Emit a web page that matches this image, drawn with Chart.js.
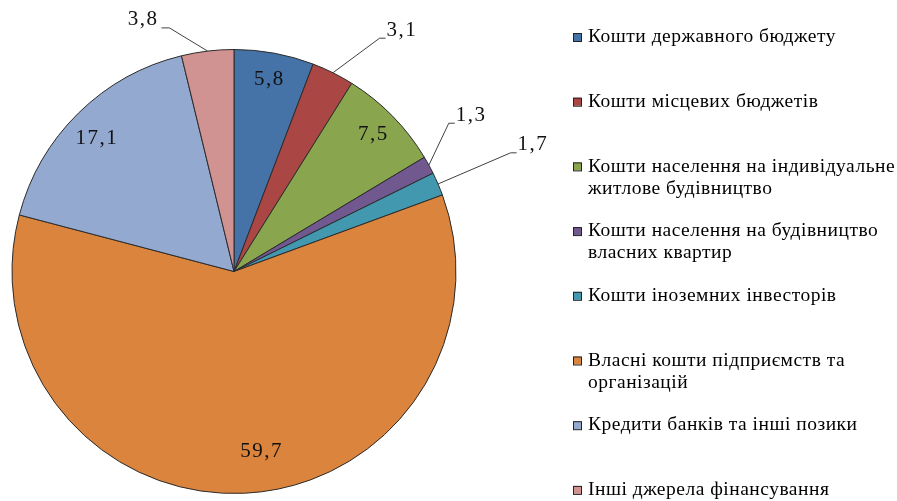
<!DOCTYPE html>
<html>
<head>
<meta charset="utf-8">
<script src="https://cdn.jsdelivr.net/npm/chart.js@4.4.0/dist/chart.umd.min.js"></script>
<style>
html, body { margin: 0; padding: 0; background: #fff; }
</style>
</head>
<body>
<canvas id="chartSources" width="897" height="501"></canvas>
<script>
var categories = [
    'Кошти державного бюджету',
    'Кошти місцевих бюджетів',
    'Кошти населення на індивідуальне житлове будівництво',
    'Кошти населення на будівництво власних квартир',
    'Кошти іноземних інвесторів',
    'Власні кошти підприємств та організацій',
    'Кредити банків та інші позики',
    'Інші джерела фінансування'
];
var shares = [5.8, 3.1, 7.5, 1.3, 1.7, 59.7, 17.1, 3.8];
var colours = ['#4572A7', '#AA4643', '#89A54E', '#71588F', '#4198AF', '#DB843D', '#93A9CF', '#D19392'];

// where each value label goes: inside the slice (r = fraction of radius)
// or outside with a leader line (reach = px beyond the edge), turn in degrees
var labelSpots = [
    { inside: true, r: 0.88, turn: 0 },
    { inside: false, reach: 53, turn: 5.5 },
    { inside: true, r: 0.88, turn: 0 },
    { inside: false, reach: 39, turn: -6 },
    { inside: false, reach: 79, turn: 0 },
    { inside: true, r: 0.82, turn: -6 },
    { inside: true, r: 0.86, turn: -1.5 },
    { inside: false, reach: 30, turn: -8 }
];

var serif = '"Liberation Serif", "Times New Roman", serif';

var valueLabels = {
    id: 'valueLabels',
    afterDatasetsDraw: function(chart) {
        var c = chart.ctx;
        var meta = chart.getDatasetMeta(0);
        c.save();
        c.font = '21px ' + serif;
        c.letterSpacing = '1.5px';
        c.fillStyle = '#111';
        c.textBaseline = 'middle';
        meta.data.forEach(function(arc, i) {
            var p = arc.getProps(['x', 'y', 'startAngle', 'endAngle', 'outerRadius'], true);
            var spot = labelSpots[i];
            var mid = (p.startAngle + p.endAngle) / 2;
            var txt = String(shares[i]).replace('.', ',');
            if (spot.inside) {
                var a = mid + spot.turn * Math.PI / 180;
                var rr = p.outerRadius * spot.r;
                c.textAlign = 'center';
                c.fillText(txt, p.x + rr * Math.cos(a), p.y + rr * Math.sin(a));
            } else {
                var sx = p.x + p.outerRadius * Math.cos(mid);
                var sy = p.y + p.outerRadius * Math.sin(mid);
                var a2 = mid + spot.turn * Math.PI / 180;
                var er = p.outerRadius + spot.reach;
                var ex = p.x + er * Math.cos(a2);
                var ey = p.y + er * Math.sin(a2);
                var right = ex >= p.x;
                var hx = right ? ex + 6 : ex - 8;
                c.strokeStyle = '#404040';
                c.lineWidth = 1;
                c.beginPath();
                c.moveTo(sx, sy);
                c.lineTo(ex, ey);
                c.lineTo(hx, ey);
                c.stroke();
                c.textAlign = right ? 'left' : 'right';
                c.fillText(txt, right ? hx + 1 : hx - 3, ey - 8);
            }
        });
        c.restore();
    }
};

var sideLegend = {
    id: 'sideLegend',
    afterDraw: function(chart) {
        var c = chart.ctx;
        var x0 = 573, tx = 588, maxW = 897 - tx;
        c.save();
        c.font = '19.5px ' + serif;
        c.letterSpacing = '0.5px';
        c.textBaseline = 'middle';
        c.textAlign = 'left';
        categories.forEach(function(name, i) {
            var y = 37 + i * 64.7;
            c.fillStyle = colours[i];
            c.fillRect(x0, y - 4, 8, 8);
            c.strokeStyle = '#222';
            c.lineWidth = 1;
            c.strokeRect(x0 + 0.5, y - 3.5, 8, 8);
            // wrap words to the free width
            var words = name.split(' ');
            var lines = [], line = '';
            words.forEach(function(w) {
                var test = line ? line + ' ' + w : w;
                if (c.measureText(test).width > maxW && line) {
                    lines.push(line);
                    line = w;
                } else {
                    line = test;
                }
            });
            lines.push(line);
            c.fillStyle = '#000';
            lines.forEach(function(l, k) {
                c.fillText(l, tx, y + k * 22);
            });
        });
        c.restore();
    }
};

var ctx = document.getElementById('chartSources');
var pieChart = new Chart(ctx, {
    type: 'pie',
    data: {
        labels: categories,
        datasets: [{
            data: shares,
            backgroundColor: colours,
            borderColor: '#2b2b2b',
            borderWidth: 1
        }]
    },
    options: {
        responsive: false,
        animation: false,
        layout: { padding: { left: 11, right: 440, top: 49, bottom: 7 } },
        plugins: {
            legend: { display: false },
            tooltip: { enabled: false }
        }
    },
    plugins: [valueLabels, sideLegend]
});
</script>
</body>
</html>
